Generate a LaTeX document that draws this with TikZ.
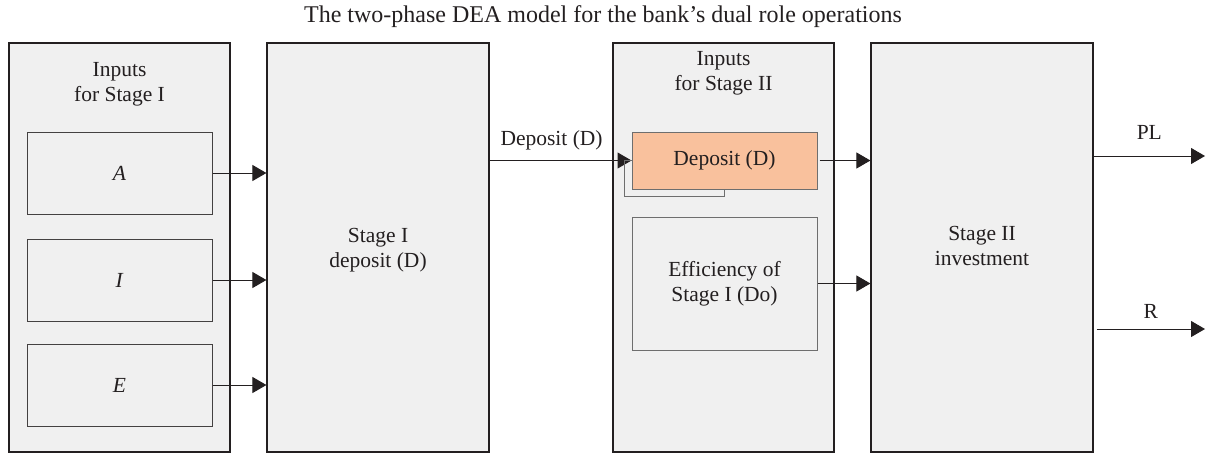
\documentclass[tikz,border=0pt]{standalone}
\usepackage{fontspec}
\setmainfont{Liberation Serif}
\usetikzlibrary{arrows.meta,calc}
\definecolor{txt}{HTML}{231F20}
\definecolor{boxfill}{HTML}{F0F0F0}
\definecolor{peach}{HTML}{F9C19D}
\definecolor{edgegray}{HTML}{6E6E6E}
\begin{document}
\begin{tikzpicture}[x=1pt,y=-1pt,
  every node/.style={text=txt, font=\fontsize{21.5}{25}\selectfont},
  bigbox/.style={draw=txt, fill=boxfill, line width=1.2pt, rectangle, inner sep=0pt, minimum width=221pt, minimum height=409pt},
  inbox/.style={draw=txt!85, fill=boxfill, line width=1pt, rectangle, inner sep=0pt, minimum width=185pt, minimum height=82pt},
  graybox/.style={draw=edgegray, line width=1pt, rectangle, inner sep=0pt, minimum width=185pt},
  lbl/.style={align=center, inner sep=0pt},
  arr/.style={draw=txt, line width=1pt, -{Triangle[length=14pt,width=16pt]}},
  fbline/.style={draw=edgegray, line width=1pt}
]
\useasboundingbox (0,0) rectangle (1207,453);

% title
\node[lbl, font=\fontsize{24}{25}\selectfont] (title) at (603,17) {The two-phase DEA model for the bank’s dual role operations};

% big boxes
\node[bigbox] (in1) at (119.5,247.5) {};
\node[bigbox, minimum width=222pt] (s1) at (378,247.5) {};
\node[bigbox] (in2) at (723.5,247.5) {};
\node[bigbox, minimum width=222pt] (s2) at (982,247.5) {};

% labels in big boxes
\node[lbl] (in1lbl) at (119.5,84) {Inputs\\for Stage I};
\node[lbl] (in2lbl) at (723.5,73) {Inputs\\for Stage II};
\node[lbl] (s1lbl) at (378,250) {Stage I\\deposit (D)};
\node[lbl] (s2lbl) at (982,246) {Stage II\\investment};

% input boxes
\node[inbox] (A) at (119.5,173) {\textit{A}};
\node[inbox] (I) at (119.5,280) {\textit{I}};
\node[inbox] (E) at (119.5,385) {\textit{E}};

% stage II inputs
\node[graybox, fill=peach, minimum height=57pt] (dep) at (724.5,160.5) {Deposit (D)};
\node[graybox, fill=boxfill, minimum height=133pt, align=center] (eff) at (724.5,283.5) {Efficiency of\\Stage I (Do)};

% arrows into stage I
\draw[arr] (A.east) -- (A.east -| s1.west);
\draw[arr] (I.east) -- (I.east -| s1.west);
\draw[arr] (E.east) -- (E.east -| s1.west);

% deposit arrow
\draw[arr] (s1.east |- dep.west) -- node[lbl, above=10pt, xshift=-9pt] (deplbl) {Deposit (D)} (dep.west);

% feedback line
\coordinate (fb) at (624,196);
\draw[fbline] (dep.south) |- (fb) |- (dep.west);

% into stage II
\draw[arr] ([xshift=2pt]dep.east) -- (dep.east -| s2.west);
\draw[arr] (eff.east) -- (eff.east -| s2.west);

% outputs
\coordinate (plend) at (1205,156);
\coordinate (rend) at (1205,329);
\draw[arr] (plend -| s2.east) -- node[lbl, above=16pt] (pllbl) {PL} (plend);
\draw[arr] ([xshift=3pt]rend -| s2.east) -- node[lbl, above=10pt] (rlbl) {R} (rend);
\end{tikzpicture}
\end{document}
